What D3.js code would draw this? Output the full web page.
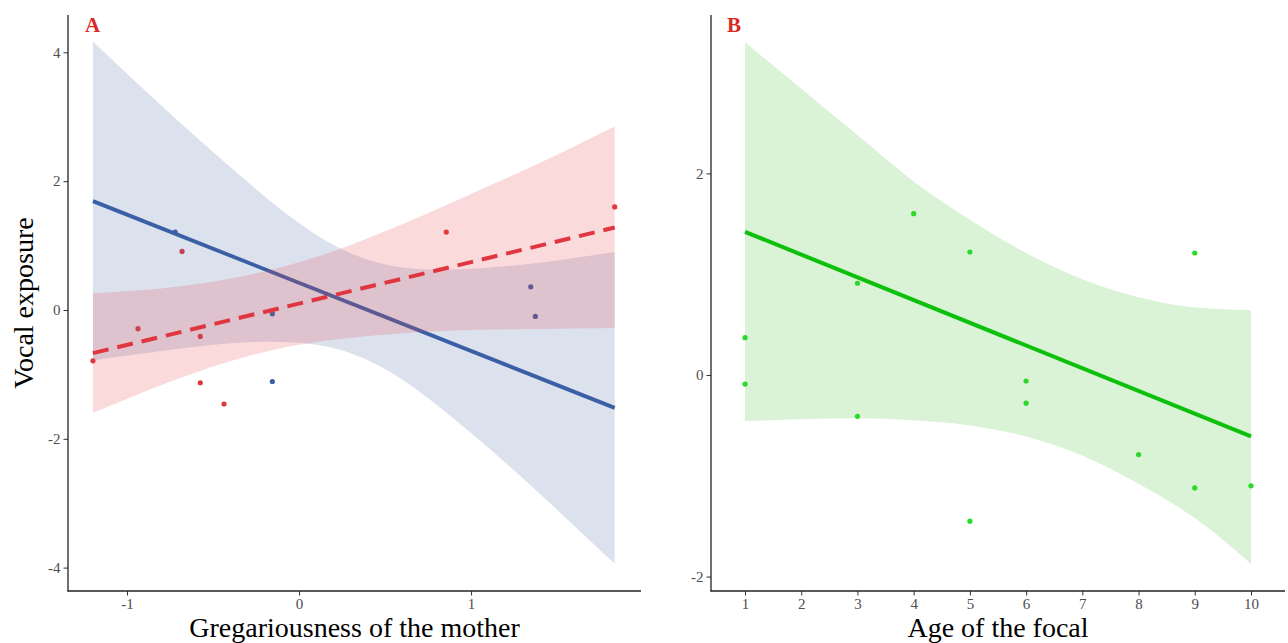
<!DOCTYPE html>
<html>
<head>
<meta charset="utf-8">
<script src="https://cdn.jsdelivr.net/npm/d3@7"></script>
<style>
  html, body { margin: 0; padding: 0; background: #fff; }
  svg { display: block; }
  text { font-family: "Liberation Serif", "Times New Roman", serif; }
</style>
</head>
<body>
<svg id="chart" width="1288" height="643"></svg>
<script>
// ---------- Panel A data ----------
const redX = [-1.198, -0.936, -0.680, -0.574, -0.574, -0.436, 0.856, 1.835];
const redY = [-0.79, -0.29, 0.91, -0.41, -1.13, -1.46, 1.21, 1.60];
const blueX = [-0.72, -0.155, -0.155, 1.347, 1.374];
const blueY = [1.21, -0.06, -1.11, 0.36, -0.10];

const fitAX = [-1.198, 1.835];
const redFit = [-0.67, 1.28];
const blueFit = [1.69, -1.52];

const bandAX = [-1.198, -0.9, -0.6, -0.3, 0, 0.3, 0.6, 0.9, 1.2, 1.5, 1.835];
const redLow = [-1.60, -1.27, -0.97, -0.72, -0.54, -0.43, -0.36, -0.32, -0.30, -0.29, -0.28];
const redHigh = [0.26, 0.31, 0.40, 0.54, 0.74, 1.01, 1.33, 1.68, 2.04, 2.41, 2.85];
const blueLow = [-0.78, -0.67, -0.57, -0.50, -0.51, -0.67, -1.08, -1.69, -2.37, -3.10, -3.94];
const blueHigh = [4.17, 3.42, 2.69, 1.99, 1.35, 0.88, 0.66, 0.63, 0.68, 0.77, 0.90];

const ticksAX = [-1, 0, 1];
const ticksAY = [-4, -2, 0, 2, 4];

// ---------- Panel B data ----------
const ageX = [1, 1, 3, 3, 4, 5, 5, 6, 6, 8, 9, 9, 10];
const ageY = [0.37, -0.09, 0.91, -0.41, 1.60, 1.22, -1.45, -0.06, -0.28, -0.79, 1.21, -1.12, -1.10];

const fitBX = [1, 10];
const greenFit = [1.42, -0.61];

const bandBX = [1, 2, 3, 4, 5, 6, 7, 8, 9, 10];
const greenLow = [-0.46, -0.44, -0.43, -0.45, -0.50, -0.61, -0.80, -1.08, -1.42, -1.875];
const greenHigh = [3.30, 2.84, 2.38, 1.92, 1.54, 1.21, 0.95, 0.77, 0.67, 0.645];

const ticksBX = [1, 2, 3, 4, 5, 6, 7, 8, 9, 10];
const ticksBY = [-2, 0, 2];

// ---------- Drawing ----------
const svg = d3.select("#chart");
const fmt = d => (d < 0 ? "-" + Math.abs(d) : String(d));

function panel(opts) {
  const g = svg.append("g");
  const x = d3.scaleLinear().domain(opts.xDomain).range([opts.left, opts.right]);
  const y = d3.scaleLinear().domain(opts.yDomain).range([opts.bottom, opts.top]);
  return { g, x, y };
}

function drawAxes(p, opts, xTicks, yTicks) {
  const ax = p.g.append("g")
    .attr("transform", `translate(0,${opts.bottom})`)
    .call(d3.axisBottom(p.x).tickValues(xTicks).tickSizeOuter(0).tickSizeInner(4.5).tickPadding(3).tickFormat(fmt));
  const ay = p.g.append("g")
    .attr("transform", `translate(${opts.left},0)`)
    .call(d3.axisLeft(p.y).tickValues(yTicks).tickSizeOuter(0).tickSizeInner(4.5).tickPadding(3).tickFormat(fmt));
  [ax, ay].forEach(a => {
    a.select(".domain").remove();
    a.selectAll(".tick line").attr("stroke", "#333").attr("stroke-width", 1);
    a.selectAll(".tick text").attr("fill", "#4d4d4d").style("font-size", "15px")
      .style("font-family", '"Liberation Serif", serif');
  });
  p.g.append("line").attr("x1", opts.left).attr("x2", opts.left)
    .attr("y1", opts.top).attr("y2", opts.bottom + 0.5)
    .attr("stroke", "#222").attr("stroke-width", 1.3);
  p.g.append("line").attr("x1", opts.left - 0.5).attr("x2", opts.right)
    .attr("y1", opts.bottom).attr("y2", opts.bottom)
    .attr("stroke", "#222").attr("stroke-width", 1.3);
}

function band(p, xs, lo, hi, fill, alpha, curve) {
  const data = xs.map((d, i) => ({ x: d, lo: lo[i], hi: hi[i] }));
  p.g.append("path").datum(data)
    .attr("d", d3.area().x(d => p.x(d.x)).y0(d => p.y(d.lo)).y1(d => p.y(d.hi)).curve(curve))
    .attr("fill", fill).attr("fill-opacity", alpha);
}

function fitLine(p, xs, ys, color, width, dash) {
  const data = xs.map((d, i) => ({ x: d, y: ys[i] }));
  const l = p.g.append("path").datum(data)
    .attr("d", d3.line().x(d => p.x(d.x)).y(d => p.y(d.y)))
    .attr("fill", "none").attr("stroke", color).attr("stroke-width", width)
    .attr("stroke-linecap", "butt");
  if (dash) l.attr("stroke-dasharray", dash);
}

function points(p, xs, ys, color) {
  p.g.append("g").selectAll("circle").data(xs.map((d, i) => ({ x: d, y: ys[i] })))
    .join("circle")
    .attr("cx", d => p.x(d.x)).attr("cy", d => p.y(d.y)).attr("r", 2.6)
    .attr("fill", color);
}

// Panel A
const optA = { left: 68, right: 641, top: 15, bottom: 591, xDomain: [-1.343, 1.988], yDomain: [-4.363, 4.580] };
const pA = panel(optA);
points(pA, redX, redY, "#e3363c");
points(pA, blueX, blueY, "#3a5fa5");
band(pA, bandAX, blueLow, blueHigh, "rgb(80,105,172)", 0.2, d3.curveNatural);
fitLine(pA, fitAX, blueFit, "#3a5fa5", 3.8);
band(pA, bandAX, redLow, redHigh, "rgb(232,68,74)", 0.2, d3.curveNatural);
fitLine(pA, fitAX, redFit, "#e0363f", 4, "16,9");
drawAxes(pA, optA, ticksAX, ticksAY);

pA.g.append("text").attr("x", 85).attr("y", 32).text("A")
  .attr("fill", "#db2a1f").style("font-weight", "bold").style("font-size", "21px");
pA.g.append("text").attr("transform", `translate(33,303) rotate(-90)`)
  .attr("text-anchor", "middle").style("font-size", "28px").attr("fill", "#000")
  .text("Vocal exposure");
pA.g.append("text").attr("x", (optA.left + optA.right) / 2).attr("y", 637)
  .attr("text-anchor", "middle").style("font-size", "28px").attr("fill", "#000")
  .text("Gregariousness of the mother");

// Panel B
const optB = { left: 711, right: 1285, top: 15, bottom: 591, xDomain: [0.395, 10.605], yDomain: [-2.143, 3.571] };
const pB = panel(optB);
points(pB, ageX, ageY, "#25dd25");
band(pB, bandBX, greenLow, greenHigh, "rgb(70,195,55)", 0.2, d3.curveMonotoneX);
fitLine(pB, fitBX, greenFit, "#0cc00c", 4);
drawAxes(pB, optB, ticksBX, ticksBY);

pB.g.append("text").attr("x", 727).attr("y", 32).text("B")
  .attr("fill", "#db2a1f").style("font-weight", "bold").style("font-size", "21px");
pB.g.append("text").attr("x", (optB.left + optB.right) / 2).attr("y", 637)
  .attr("text-anchor", "middle").style("font-size", "28px").attr("fill", "#000")
  .text("Age of the focal");
</script>
</body>
</html>
